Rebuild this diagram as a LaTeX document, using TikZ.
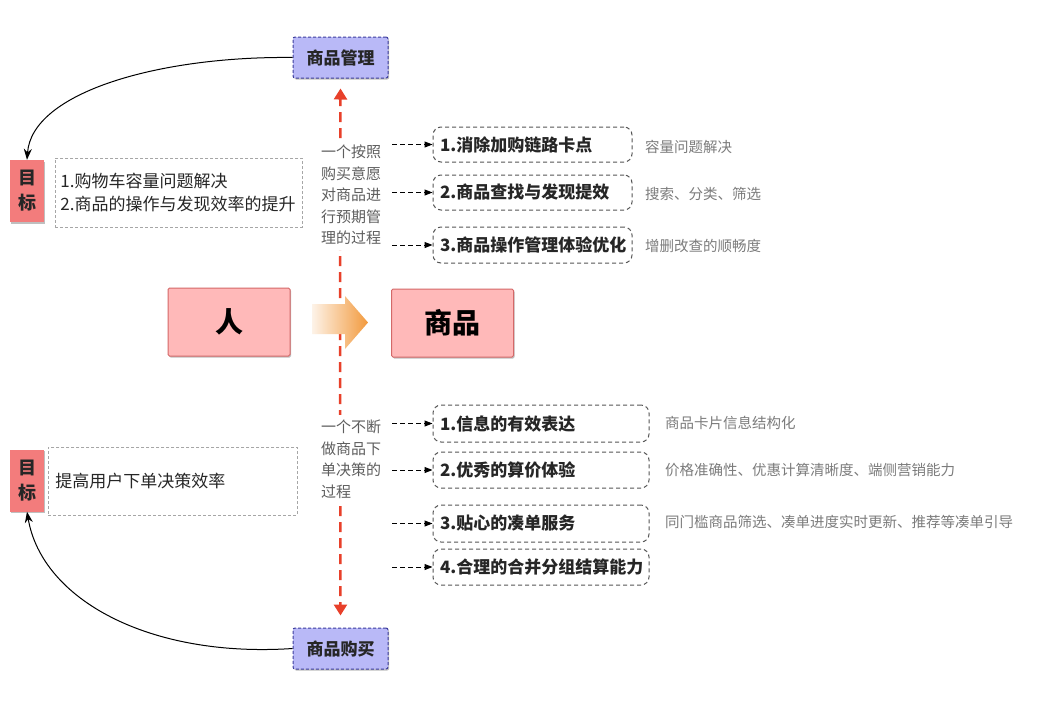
\documentclass[tikz,border=0pt]{standalone}
\usepackage{fontspec}
\setmainfont{Noto Sans CJK SC}
\usetikzlibrary{arrows.meta,shapes.arrows,shadows}
\definecolor{blueF}{HTML}{B9B9F7}
\definecolor{blueD}{HTML}{3C3C9C}
\definecolor{pinkF}{HTML}{FFB9B9}
\definecolor{pinkD}{HTML}{D46868}
\definecolor{goalF}{HTML}{F37C7C}
\definecolor{redL}{HTML}{E8402A}
\definecolor{grayT}{HTML}{5E5E5E}
\definecolor{descT}{HTML}{7C7C7C}
\definecolor{darkT}{HTML}{262626}
\definecolor{boxD}{HTML}{555555}
\definecolor{orangeA}{HTML}{F29A3E}
\tikzset{
  shd/.style={drop shadow={shadow xshift=1.2pt,shadow yshift=-1.5pt,opacity=.25,fill=black}},
  actbox/.style={shd,draw=blueD,dashed,dash pattern=on 3pt off 2pt,line width=1pt,fill=blueF,rounded corners=2pt,
    minimum width=95,minimum height=41,inner sep=0pt,font=\fontsize{17}{20}\selectfont\bfseries,text=darkT},
  bigbox/.style={shd,draw=pinkD,line width=1pt,fill=pinkF,rounded corners=1.5pt,
    minimum width=122,minimum height=68,inner sep=0pt,font=\fontsize{28}{32}\selectfont\bfseries,text=black},
  goalbox/.style={shd,fill=goalF,minimum width=34,minimum height=62,inner sep=0pt,align=center,
    font=\fontsize{18}{25}\selectfont\bfseries,text=darkT},
  goaltext/.style={draw=black!35,dashed,dash pattern=on 3pt off 2pt,line width=.7pt,align=left,
    font=\fontsize{17}{23}\selectfont,text=darkT,anchor=west},
  proc/.style={fill=white,align=left,inner xsep=2pt,inner ysep=5pt,
    font=\fontsize{15}{21.5}\selectfont,text=grayT},
  itembox/.style={draw=boxD,dashed,dash pattern=on 4pt off 3pt,line width=1pt,rounded corners=8pt,
    align=left,inner xsep=7pt,inner ysep=0pt,font=\fontsize{17}{20}\selectfont\bfseries,text=darkT},
  desc/.style={anchor=west,inner sep=0pt,font=\fontsize{14.5}{17}\selectfont,text=descT},
  darr/.style={draw=black,dashed,dash pattern=on 5pt off 3pt,line width=1pt,-{Triangle[length=8pt,width=6pt]}},
  redline/.style={draw=redL,line width=2.5pt,dash pattern=on 10pt off 6pt,-{Triangle[length=11pt,width=13pt]}},
  curv/.style={draw=black,line width=1pt,-{Stealth[length=11pt,width=8pt]}},
  flowarrow/.style={left color=orangeA!12,right color=orangeA}
}
\begin{document}
\begin{tikzpicture}[x=1pt,y=-1pt]
\useasboundingbox[fill=white] (0,0) rectangle (1056,702);

% top and bottom action boxes
\node[actbox] (mgmt) at (340.5,57.5) {商品管理};
\node[actbox] (buy) at (340.5,648.5) {商品购买};

% central red dashed axis
\coordinate (mid) at (340,330);
\draw[redline,shorten >=10pt] (mid) -- (mgmt.south);
\draw[redline,shorten >=12pt] (mid) -- (buy.north);

% main boxes
\node[bigbox] (person) at (229,322) {人};
\node[bigbox] (goods) at (452.5,323) {商品};
% orange flow arrow
\shade[flowarrow] (312,304) -- (345,304) -- (345,296) -- (368,322.5) -- (345,349) -- (345,334) -- (312,334) -- cycle;

% process texts
\node[proc] (p1) at (351,195) {一个按照\\购买意愿\\对商品进\\行预期管\\理的过程};
\node[proc] (p2) at (351,459.5) {一个不断\\做商品下\\单决策的\\过程};

% item boxes (top)
\node[itembox,text width=185,minimum height=35] (t1) at (532.5,144.5) {1.消除加购链路卡点};
\node[itembox,text width=185,minimum height=35] (t2) at (532.5,192.5) {2.商品查找与发现提效};
\node[itembox,text width=185,minimum height=36] (t3) at (532.5,245) {3.商品操作管理体验优化};

% item boxes (bottom)
\node[itembox,text width=202,minimum height=37] (u1) at (541,423.5) {1.信息的有效表达};
\node[itembox,text width=202,minimum height=36] (u2) at (541,470) {2.优秀的算价体验};
\node[itembox,text width=202,minimum height=37] (u3) at (541,523.5) {3.贴心的凑单服务};
\node[itembox,text width=202,minimum height=36] (u4) at (541,567) {4.合理的合并分组结算能力};

% arrow start column
\coordinate (sx) at (392,0);
\draw[darr] (sx |- t1.west) -- (t1.west);
\draw[darr] (sx |- t2.west) -- (t2.west);
\draw[darr] (sx |- t3.west) -- (t3.west);
\draw[darr] (sx |- u1.west) -- (u1.west);
\draw[darr] (sx |- u2.west) -- (u2.west);
\draw[darr] (sx |- u3.west) -- (u3.west);
\draw[darr] (sx |- u4.west) -- (u4.west);

% descriptions
\node[desc] (d1) at (645,147) {容量问题解决};
\node[desc] (d2) at (645,194) {搜索、分类、筛选};
\node[desc] (d3) at (645,246) {增删改查的顺畅度};
\node[desc] (e1) at (665,423) {商品卡片信息结构化};
\node[desc] (e2) at (665,470) {价格准确性、优惠计算清晰度、端侧营销能力};
\node[desc] (e3) at (665,522) {同门槛商品筛选、凑单进度实时更新、推荐等凑单引导};

% goals
\node[goalbox] (g1) at (27,191) {目\\标};
\node[goaltext,text width=237,minimum height=69,inner xsep=5pt] (gt1) at (55,192.5) {1.购物车容量问题解决\\2.商品的操作与发现效率的提升};
\node[goalbox] (g2) at (27,480.5) {目\\标};
\node[goaltext,text width=235,minimum height=68,inner xsep=7pt] (gt2) at (48,481) {提高用户下单决策效率};

% curved arrows
\draw[curv] (mgmt.west) .. controls (160,56) and (32,92) .. (g1.north);
\draw[curv] (buy.west) .. controls (150,658) and (42,600) .. (g2.south);
\end{tikzpicture}
\end{document}
